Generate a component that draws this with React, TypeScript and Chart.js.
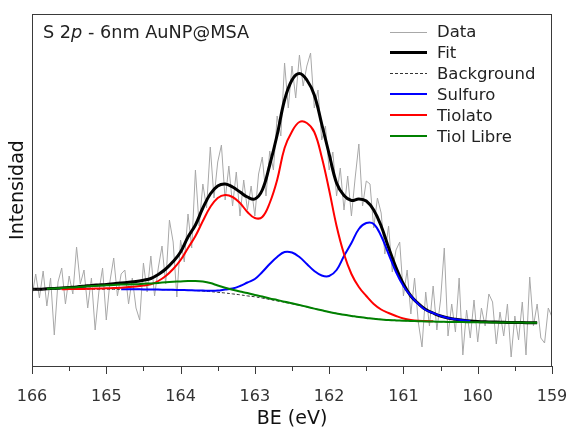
import React, { useEffect, useRef } from 'react';
import { Chart, registerables } from 'chart.js';

Chart.register(...registerables);

const FONT = '"DejaVu Sans", Verdana, sans-serif';

// Binding energy grid of the measured spectrum (eV)
const DATA_BE = [
  166.0, 165.95, 165.9, 165.85, 165.8, 165.75, 165.7, 165.65, 165.6, 165.55,
  165.5, 165.45, 165.4, 165.35, 165.3, 165.25, 165.2, 165.15, 165.1, 165.05,
  165.0, 164.95, 164.9, 164.85, 164.8, 164.75, 164.7, 164.65, 164.6, 164.55,
  164.5, 164.45, 164.4, 164.35, 164.3, 164.25, 164.2, 164.15, 164.1, 164.05,
  164.0, 163.95, 163.9, 163.85, 163.8, 163.75, 163.7, 163.65, 163.6, 163.55,
  163.5, 163.45, 163.4, 163.35, 163.3, 163.25, 163.2, 163.15, 163.1, 163.05,
  163.0, 162.95, 162.9, 162.85, 162.8, 162.75, 162.7, 162.65, 162.6, 162.55,
  162.5, 162.45, 162.4, 162.35, 162.3, 162.25, 162.2, 162.15, 162.1, 162.05,
  162.0, 161.95, 161.9, 161.85, 161.8, 161.75, 161.7, 161.65, 161.6, 161.55,
  161.5, 161.45, 161.4, 161.35, 161.3, 161.25, 161.2, 161.15, 161.1, 161.05,
  161.0, 160.95, 160.9, 160.85, 160.8, 160.75, 160.7, 160.65, 160.6, 160.55,
  160.5, 160.45, 160.4, 160.35, 160.3, 160.25, 160.2, 160.15, 160.1, 160.05,
  160.0, 159.95, 159.9, 159.85, 159.8, 159.75, 159.7, 159.65, 159.6, 159.55,
  159.5, 159.45, 159.4, 159.35, 159.3, 159.25, 159.2, 159.15, 159.1, 159.05,
  159.0,
];

// Measured intensity (arbitrary units)
const DATA_I = [
  70, 92, 68, 95, 60, 88, 31, 84, 98, 62,
  90, 72, 119, 82, 96, 58, 88, 36, 74, 98,
  46, 85, 108, 70, 92, 96, 62, 88, 58, 46,
  103, 74, 110, 70, 98, 120, 82, 146, 124, 69,
  126, 104, 152, 118, 196, 140, 182, 158, 219, 168,
  204, 221, 166, 200, 160, 194, 150, 186, 156, 180,
  150, 192, 209, 170, 215, 196, 250, 230, 303, 258,
  300, 268, 311, 280, 300, 313, 258, 276, 226, 240,
  196, 214, 170, 198, 156, 190, 150, 188, 222, 160,
  185, 182, 138, 168, 153, 112, 140, 94, 116, 124,
  70, 96, 52, 88, 44, 19, 74, 40, 80, 36,
  66, 118, 30, 62, 34, 88, 11, 56, 28, 66,
  24, 58, 40, 72, 64, 22, 54, 30, 62, 9,
  50, 26, 64, 11, 89, 40, 62, 28, 23, 58,
  49,
];

// Binding energy grid of the fitted curves (eV)
const FIT_BE = [
  166.0, 165.9, 165.8, 165.7, 165.6, 165.5, 165.4, 165.3, 165.2, 165.1,
  165.0, 164.9, 164.8, 164.7, 164.6, 164.5, 164.4, 164.3, 164.2, 164.1,
  164.0, 163.9, 163.8, 163.7, 163.6, 163.5, 163.4, 163.3, 163.2, 163.1,
  163.0, 162.9, 162.8, 162.7, 162.6, 162.5, 162.4, 162.3, 162.2, 162.1,
  162.0, 161.9, 161.8, 161.7, 161.6, 161.5, 161.4, 161.3, 161.2, 161.1,
  161.0, 160.9, 160.8, 160.7, 160.6, 160.5, 160.4, 160.3, 160.2, 160.1,
  160.0, 159.9, 159.8, 159.7, 159.6, 159.5, 159.4, 159.3, 159.2,
];

const FIT_I = [
  76.7, 76.8, 77.2, 77.6, 78.1, 78.6, 79.1, 79.8, 80.6, 81.1,
  81.6, 82.3, 83, 83.7, 84.5, 85.8, 87.5, 91.5, 97, 104.5,
  114, 129, 141, 158, 172, 180, 182, 179, 174, 169,
  167, 176, 201, 231, 266, 286, 292.5, 286, 271, 242,
  212, 183, 170.5, 165.5, 167, 165, 156, 140, 118.5, 98.5,
  82, 70, 62.5, 56.5, 53, 50, 48, 46.8, 45.8, 45,
  44.5, 44.2, 44, 43.8, 43.6, 43.5, 43.4, 43.3, 43.3,
];

const BACKGROUND_I = [
  76.8, 76.8, 76.8, 76.8, 76.8, 76.8, 76.8, 76.8, 76.8, 76.8,
  76.8, 76.7, 76.7, 76.7, 76.7, 76.6, 76.5, 76.4, 76.3, 76.2,
  76, 75.7, 75.4, 74.9, 74.4, 73.7, 73, 72.1, 71.2, 70.1,
  69.2, 67.9, 66.5, 65.1, 63.7, 62.2, 60.7, 59.1, 57.4, 55.7,
  54, 52.6, 51.2, 50.1, 49, 48.1, 47.2, 46.6, 46, 45.6,
  45.3, 45, 44.8, 44.6, 44.4, 44.2, 44.1, 44, 43.9, 43.8,
  43.7, 43.7, 43.6, 43.6, 43.5, 43.5, 43.4, 43.3, 43.3,
];

const SULFURO_I = [
  null, null, null, null, null, null, null, null, null, null,
  null, null, 76.7, 76.7, 76.7, 76.6, 76.5, 76.4, 76.3, 76.2,
  76, 75.8, 75.6, 75.4, 75.2, 75.4, 76.5, 77.5, 80, 83.5,
  87, 94, 102, 109, 114, 113.5, 109, 102, 95, 90.5,
  90, 96, 110, 123, 137, 143, 142, 130, 112, 94,
  80, 70, 62, 56, 53, 50, 48, 46.8, 45.8, 45,
  null, null, null, null, null, null, null, null, null,
];

const TIOLATO_I = [
  null, null, null, null, 76.8, 76.9, 77, 77.1, 77.3, 77.5,
  77.7, 78, 78.3, 78.9, 79.6, 80.5, 81.7, 85, 90, 97,
  106, 118, 130, 145, 159, 168, 171, 169, 163, 154,
  148, 149, 163, 186, 218, 234.5, 244, 243, 234, 209,
  176, 140, 112, 92, 79, 70, 62, 56.5, 53, 50,
  47.5, 46, 45.2, 45, 44.7, null, null, null, null, null,
  null, null, null, null, null, null, null, null, null,
];

const TIOL_LIBRE_I = [
  null, null, 77.2, 77.6, 78, 78.4, 78.8, 79.4, 80, 80.4,
  80.7, 81, 81.4, 81.6, 81.8, 82.2, 82.6, 83.1, 83.7, 84.2,
  84.6, 85, 85, 84.4, 83, 80.5, 78.2, 76.2, 74.5, 73,
  71, 69.5, 67.5, 66, 64.2, 62.7, 61, 59.2, 57.4, 55.7,
  54, 52.6, 51.2, 50.1, 49, 48.1, 47.2, 46.6, 46, 45.6,
  45.3, 45, 44.8, 44.6, 44.4, 44.2, 44.1, 44, 43.9, 43.8,
  43.7, 43.7, 43.6, 43.6, 43.5, 43.5, 43.4, 43.3, 43.3,
];

const X_MAJOR_TICKS = [166, 165, 164, 163, 162, 161, 160, 159];
const X_MINOR_TICKS = [165.5, 164.5, 163.5, 162.5, 161.5, 160.5, 159.5];

const SERIES_LABELS = ['Data', 'Fit', 'Background', 'Sulfuro', 'Tiolato', 'Tiol Libre'];

const toPoints = (xs: number[], ys: (number | null)[]) =>
  xs.map((x, i) => ({ x, y: ys[i] }));

const decorPlugin = {
  id: 'decor',
  afterDraw(chart: any) {
    const { ctx, chartArea: a } = chart;
    const xs = chart.scales.x;
    ctx.save();
    // frame
    ctx.strokeStyle = '#3a3a3a';
    ctx.lineWidth = 1;
    ctx.setLineDash([]);
    ctx.strokeRect(a.left + 0.5, a.top + 0.5, a.right - a.left - 1, a.bottom - a.top);
    // ticks
    ctx.beginPath();
    X_MAJOR_TICKS.forEach((v) => {
      const px = Math.round(xs.getPixelForValue(v)) + 0.5;
      ctx.moveTo(px, a.bottom);
      ctx.lineTo(px, a.bottom + 8);
    });
    X_MINOR_TICKS.forEach((v) => {
      const px = Math.round(xs.getPixelForValue(v)) + 0.5;
      ctx.moveTo(px, a.bottom);
      ctx.lineTo(px, a.bottom + 5);
    });
    ctx.stroke();

    // panel title
    ctx.fillStyle = '#222';
    ctx.textBaseline = 'alphabetic';
    ctx.textAlign = 'left';
    let tx = 43;
    const ty = 37.5;
    const parts = [
      { t: 'S 2', it: false },
      { t: 'p', it: true },
      { t: ' - 6nm AuNP@MSA', it: false },
    ];
    parts.forEach((p) => {
      ctx.font = `${p.it ? 'italic ' : ''}17.7px ${FONT}`;
      ctx.fillText(p.t, tx, ty);
      tx += ctx.measureText(p.t).width;
    });

    // legend
    ctx.font = `16.5px ${FONT}`;
    chart.data.datasets.forEach((ds: any, i: number) => {
      const y = 31.5 + i * 20.9;
      ctx.beginPath();
      ctx.strokeStyle = ds.borderColor;
      ctx.lineWidth = ds.borderWidth;
      ctx.setLineDash(ds.borderDash || []);
      const yy = ds.borderWidth % 2 === 1 ? Math.round(y) + 0.5 : Math.round(y);
      ctx.moveTo(390, yy);
      ctx.lineTo(427, yy);
      ctx.stroke();
      ctx.setLineDash([]);
      ctx.fillStyle = '#222';
      ctx.fillText(ds.label, 437, y + 5.5);
    });
    ctx.restore();
  },
};

export default function App() {
  const ref = useRef<HTMLCanvasElement | null>(null);

  useEffect(() => {
    document.body.style.margin = '0';
    const canvas = ref.current;
    if (!canvas) return;
    const curve = {
      pointRadius: 0,
      fill: false,
      spanGaps: false,
      tension: 0.4,
    };
    const chart = new Chart(canvas, {
      type: 'line',
      data: {
        datasets: [
          {
            label: SERIES_LABELS[0],
            data: toPoints(DATA_BE, DATA_I),
            borderColor: '#a8a8a8',
            borderWidth: 1,
            pointRadius: 0,
            tension: 0,
            order: 6,
          },
          {
            label: SERIES_LABELS[1],
            data: toPoints(FIT_BE, FIT_I),
            borderColor: '#000000',
            borderWidth: 3,
            order: 5,
            ...curve,
          },
          {
            label: SERIES_LABELS[2],
            data: toPoints(FIT_BE, BACKGROUND_I),
            borderColor: '#333333',
            borderWidth: 1,
            borderDash: [3, 2],
            order: 4,
            ...curve,
          },
          {
            label: SERIES_LABELS[3],
            data: toPoints(FIT_BE, SULFURO_I),
            borderColor: '#0000ff',
            borderWidth: 2,
            order: 3,
            ...curve,
          },
          {
            label: SERIES_LABELS[4],
            data: toPoints(FIT_BE, TIOLATO_I),
            borderColor: '#ff0000',
            borderWidth: 2,
            order: 2,
            ...curve,
          },
          {
            label: SERIES_LABELS[5],
            data: toPoints(FIT_BE, TIOL_LIBRE_I),
            borderColor: '#008000',
            borderWidth: 2,
            order: 1,
            ...curve,
          },
        ] as any,
      },
      options: {
        responsive: false,
        animation: false,
        events: [],
        layout: { padding: { left: 7, right: 18, top: 14, bottom: 0 } },
        plugins: {
          legend: { display: false },
          tooltip: { enabled: false },
        },
        scales: {
          x: {
            type: 'linear',
            reverse: true,
            min: 159,
            max: 166,
            ticks: {
              stepSize: 1,
              autoSkip: false,
              maxRotation: 0,
              padding: 21,
              color: '#333',
              font: { family: FONT, size: 16 },
            },
            grid: { display: false, drawTicks: false },
            border: { display: false },
            title: {
              display: true,
              text: 'BE (eV)',
              color: '#111',
              font: { family: FONT, size: 19, lineHeight: 0.8 },
              padding: 0,
            },
            afterFit: (s: any) => {
              s.height = 61;
              s.paddingLeft = 0;
              s.paddingRight = 0;
            },
          },
          y: {
            type: 'linear',
            min: 0,
            max: 352,
            ticks: { display: false },
            grid: { display: false, drawTicks: false },
            border: { display: false },
            title: {
              display: true,
              text: 'Intensidad',
              color: '#111',
              font: { family: FONT, size: 19 },
              padding: 0,
            },
            afterFit: (s: any) => {
              s.width = 25;
              s.paddingTop = 0;
              s.paddingBottom = 0;
            },
          },
        },
      } as any,
      plugins: [decorPlugin],
    });
    return () => chart.destroy();
  }, []);

  return (
    <div style={{ width: 570, height: 427 }}>
      <canvas ref={ref} width={570} height={427} />
    </div>
  );
}
